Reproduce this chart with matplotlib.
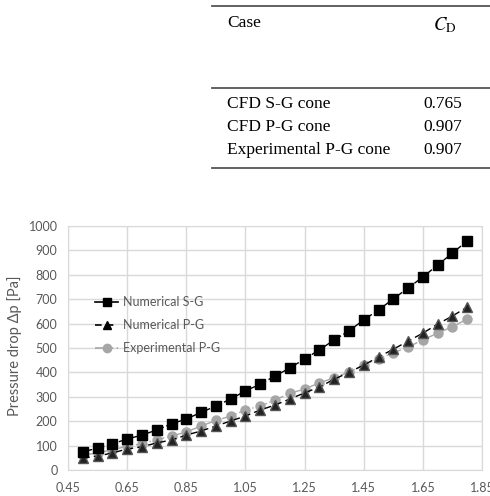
import matplotlib
matplotlib.use("Agg")
from matplotlib import pyplot as plt
from matplotlib.lines import Line2D
import numpy as np

# table values
cases = ["CFD S-G cone", "CFD P-G cone", "Experimental P-G cone"]
cd_values = ["0.765", "0.907", "0.907"]

# chart data (velocity on x, pressure drop in Pa on y)
x_vals = [0.50, 0.55, 0.60, 0.65, 0.70, 0.75, 0.80, 0.85, 0.90, 0.95,
          1.00, 1.05, 1.10, 1.15, 1.20, 1.25, 1.30, 1.35, 1.40, 1.45,
          1.50, 1.55, 1.60, 1.65, 1.70, 1.75, 1.80]
num_sg = [74, 90, 107, 127, 143, 164, 189, 209, 236, 262,
          291, 324, 352, 385, 418, 455, 492, 533, 570, 615,
          656, 701, 746, 791, 840, 889, 939]
num_pg = [49, 57, 70, 86, 95, 111, 123, 143, 160, 180,
          201, 221, 246, 266, 291, 316, 340, 372, 400, 430,
          463, 495, 528, 561, 598, 631, 668]
exp_pg = [61, 70, 83, 97, 108, 124, 139, 156, 180, 203,
          221, 246, 262, 287, 314, 332, 357, 378, 402, 430,
          455, 480, 504, 533, 561, 587, 619]
x_ticks = [0.45, 0.65, 0.85, 1.05, 1.25, 1.45, 1.65, 1.85]

plt.rcParams['mathtext.fontset'] = 'stix'
fig = plt.figure(figsize=(4.9, 4.96), dpi=100)

# ---- table at the top ----
serif = ['Liberation Serif', 'DejaVu Serif']
H = 496.0
W = 490.0
for ypix in [6, 88, 168]:
    fig.add_artist(Line2D([212 / W, 1.0], [1 - ypix / H, 1 - ypix / H],
                          color='#555555', lw=1.3))
fig.text(227 / W, 1 - 23 / H, "Case", family=serif, fontsize=12.5, va='center')
fig.text(433 / W, 1 - 25 / H, r"$C_\mathrm{D}$", fontsize=13.5, va='center')
for i, (c, v) in enumerate(zip(cases, cd_values)):
    yy = 1 - (104 + 23 * i) / H
    fig.text(227 / W, yy, c, family=serif, fontsize=12.5, va='center')
    fig.text(423 / W, yy, v, family=serif, fontsize=12.5, va='center')

# ---- chart ----
ax = fig.add_axes([68 / W, 26 / H, 414 / W, 244 / H])
gray_txt = '#595959'
grid_c = '#d9d9d9'
sans = ['Lato', 'DejaVu Sans']

ax.plot(x_vals, exp_pg, color='#a6a6a6', lw=1.0, dashes=(8, 2, 1, 2),
        marker='o', ms=6.5, mfc='#a6a6a6', mec='#a6a6a6',
        label='Experimental P-G', zorder=3)
ax.plot(x_vals, num_pg, color='black', lw=1.0, dashes=(5, 3),
        marker='^', ms=6.5, mfc='#222222', mec='#555555',
        label='Numerical P-G', zorder=4)
ax.plot(x_vals, num_sg, color='black', lw=1.0, dashes=(7, 2),
        marker='s', ms=6.5, mfc='black', mec='black',
        label='Numerical S-G', zorder=5)

ax.set_xlim(0.45, 1.85)
ax.set_ylim(0, 1000)
ax.set_xticks(x_ticks)
ax.set_xticklabels(["%.2f" % t for t in x_ticks])
ax.set_yticks(np.arange(0, 1001, 100))
ax.grid(True, color=grid_c, lw=1.0)
ax.set_axisbelow(True)
for s in ax.spines.values():
    s.set_color(grid_c)
ax.tick_params(length=0, labelsize=9, colors=gray_txt)
ax.tick_params(axis='x', pad=9)
ax.tick_params(axis='y', pad=7.5)
for lab in ax.get_xticklabels() + ax.get_yticklabels():
    lab.set_family(sans)
ax.set_ylabel("Pressure drop \u0394p [Pa]", fontsize=10.5, color=gray_txt,
              family=sans)
ax.yaxis.set_label_coords(-46 / 414, 0.508)

handles = [
    Line2D([], [], color='black', lw=1.2, marker='s', ms=6),
    Line2D([], [], color='black', lw=1.2, dashes=(4, 3), marker='^', ms=6),
    Line2D([], [], color='#a6a6a6', lw=1.2, dashes=(8, 2, 1, 2), marker='o', ms=6),
]
leg = ax.legend(handles, ['Numerical S-G', 'Numerical P-G', 'Experimental P-G'],
                loc='upper left', bbox_to_anchor=(27 / 414, 174 / 244),
                frameon=False, borderpad=0, borderaxespad=0,
                handlelength=1.85, handletextpad=0.4, labelspacing=0.9,
                prop={'family': sans, 'size': 9})
for t in leg.get_texts():
    t.set_color(gray_txt)

fig.savefig("out.png", dpi=100)
